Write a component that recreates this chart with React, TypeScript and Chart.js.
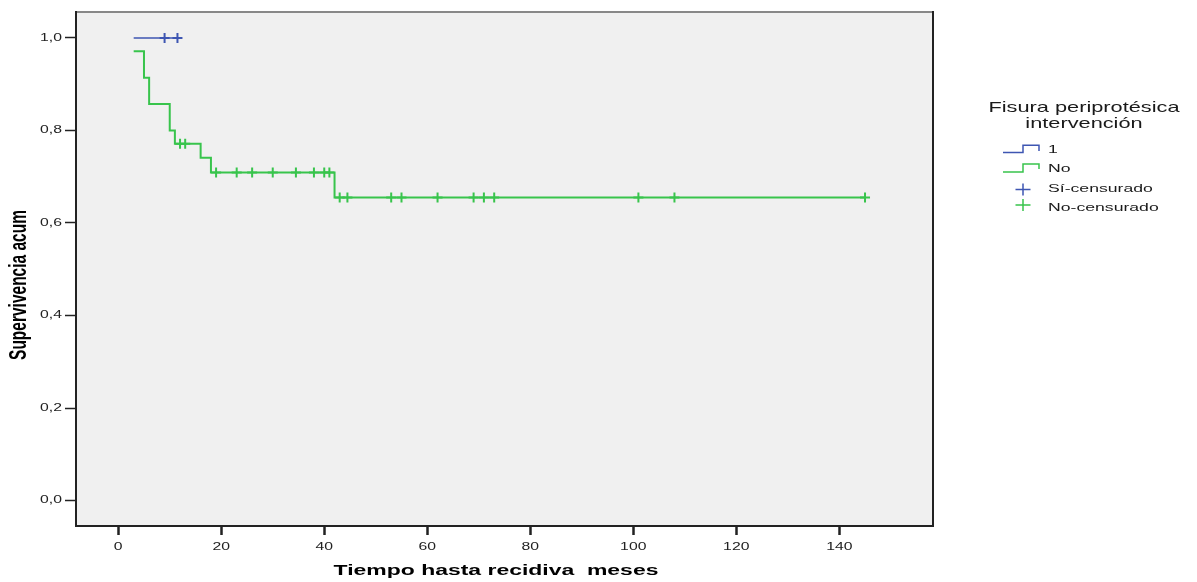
import React, { useEffect, useRef } from "react";
import { Chart, registerables } from "chart.js";

Chart.register(...registerables);

// ---- data ----
const xTickValues = [0, 20, 40, 60, 80, 100, 120, 140];
const yTickValues = [0, 0.2, 0.4, 0.6, 0.8, 1.0];

const blueEventTimes = [3];
const blueEventSurv = [1.0];
const blueCensorTimes = [9, 11.5];

const greenEventTimes = [3, 5, 6, 10, 11, 16, 18, 42];
const greenEventSurv = [0.971, 0.914, 0.857, 0.8, 0.771, 0.741, 0.709, 0.655];
const greenCensorTimes = [12, 13, 19, 23, 26, 30, 34.5, 38, 40, 41, 43, 44.5, 53, 55, 62, 69, 71, 73, 101, 108, 145];

const legendTitle = ["Fisura periprotésica", "intervención"];
const groupLabels = ["1", "No"];
const censorLabels = ["Sí-censurado", "No-censurado"];
const xTitle = "Tiempo hasta recidiva  meses";
const yTitle = "Supervivencia acum";

const BLUE = "rgb(62,86,178)";
const GREEN = "rgb(56,196,76)";
const FONT = "'Liberation Sans', Arial, sans-serif";
const SX = 1.5;

function survAt(times: number[], surv: number[], t: number) {
  let s = surv[0];
  for (let i = 0; i < times.length; i++) if (times[i] <= t) s = surv[i];
  return s;
}

function curve(times: number[], surv: number[], cens: number[]) {
  const all = Array.from(new Set([...times, ...cens])).sort((a, b) => a - b);
  return all.map((t) => ({ x: t, y: survAt(times, surv, t) }));
}

function marks(times: number[], surv: number[], cens: number[]) {
  return cens.map((t) => ({ x: t, y: survAt(times, surv, t) }));
}

function sText(
  ctx: CanvasRenderingContext2D,
  text: string,
  x: number,
  y: number,
  font: string,
  align: "left" | "center" | "right",
  color = "#1a1a1a",
  sx = SX
) {
  ctx.save();
  ctx.font = font;
  ctx.fillStyle = color;
  ctx.textBaseline = "middle";
  ctx.textAlign = "left";
  const w = ctx.measureText(text).width * sx;
  const left = align === "left" ? x : align === "center" ? x - w / 2 : x - w;
  ctx.translate(left, y);
  ctx.scale(sx, 1);
  ctx.fillText(text, 0, 0);
  ctx.restore();
}

const decorPlugin = {
  id: "decor",
  beforeDraw(chart: any) {
    const { ctx, chartArea: a } = chart;
    ctx.save();
    ctx.fillStyle = "#f0f0f0";
    ctx.fillRect(a.left, a.top, a.right - a.left, a.bottom - a.top);
    ctx.restore();
  },
  afterDraw(chart: any) {
    const { ctx, chartArea: a } = chart;
    // frame
    ctx.save();
    ctx.strokeStyle = "#888";
    ctx.lineWidth = 2;
    ctx.beginPath();
    ctx.moveTo(a.left, a.top);
    ctx.lineTo(a.right, a.top);
    ctx.stroke();
    ctx.strokeStyle = "#222";
    ctx.lineWidth = 2;
    ctx.beginPath();
    ctx.moveTo(a.left, a.top - 1);
    ctx.lineTo(a.left, a.bottom);
    ctx.lineTo(a.right, a.bottom);
    ctx.lineTo(a.right, a.top - 1);
    ctx.stroke();
    ctx.restore();

    // tick labels
    const xs = chart.scales.x;
    const ys = chart.scales.y;
    const tf = `10.5px ${FONT}`;
    ys.ticks.forEach((t: any) => {
      const py = ys.getPixelForValue(t.value);
      sText(ctx, t.value.toFixed(1).replace(".", ","), a.left - 14, py, tf, "right", "#222");
    });
    xs.ticks.forEach((t: any) => {
      const px = xs.getPixelForValue(t.value);
      sText(ctx, String(t.value), px, 547, tf, "center", "#222");
    });

    // axis titles
    sText(ctx, xTitle, 496, 571, `bold 15.3px ${FONT}`, "center", "#000");
    ctx.save();
    ctx.translate(20, 285);
    ctx.rotate(-Math.PI / 2);
    ctx.scale(1, SX);
    ctx.font = `bold 15.5px ${FONT}`;
    ctx.fillStyle = "#000";
    ctx.textAlign = "center";
    ctx.textBaseline = "middle";
    ctx.fillText(yTitle, 0, 0);
    ctx.restore();

    // legend
    const lf = `14.5px ${FONT}`;
    sText(ctx, legendTitle[0], 1084, 108, lf, "center");
    sText(ctx, legendTitle[1], 1084, 124, lf, "center");
    const itf = `11.75px ${FONT}`;
    const stepRows = [
      { c: BLUE, base: 152.5, top: 145.3, end: 151, ty: 150 },
      { c: GREEN, base: 172, top: 164, end: 169, ty: 169 },
    ];
    stepRows.forEach((r, i) => {
      ctx.save();
      ctx.strokeStyle = r.c;
      ctx.lineWidth = 1.5;
      ctx.beginPath();
      ctx.moveTo(1003, r.base);
      ctx.lineTo(1023, r.base);
      ctx.lineTo(1023, r.top);
      ctx.lineTo(1039, r.top);
      ctx.lineTo(1039, r.end);
      ctx.stroke();
      ctx.restore();
      sText(ctx, groupLabels[i], 1048, r.ty, itf, "left");
    });
    const crossRows = [
      { c: BLUE, cy: 189.5, ty: 189 },
      { c: GREEN, cy: 205, ty: 208 },
    ];
    crossRows.forEach((r, i) => {
      ctx.save();
      ctx.strokeStyle = r.c;
      ctx.lineWidth = 1.5;
      ctx.beginPath();
      ctx.moveTo(1015.5, r.cy);
      ctx.lineTo(1030.5, r.cy);
      ctx.moveTo(1023, r.cy - 6);
      ctx.lineTo(1023, r.cy + 6);
      ctx.stroke();
      ctx.restore();
      sText(ctx, censorLabels[i], 1048, r.ty, itf, "left");
    });
  },
};

export default function App() {
  const ref = useRef<HTMLCanvasElement | null>(null);
  useEffect(() => {
    if (!ref.current) return;
    const chart = new Chart(ref.current, {
      type: "line",
      data: {
        datasets: [
          {
            label: groupLabels[0],
            data: curve(blueEventTimes, blueEventSurv, blueCensorTimes),
            borderColor: BLUE,
            borderWidth: 1.5,
            stepped: true,
            pointRadius: 0,
            fill: false,
          },
          {
            label: groupLabels[1],
            data: curve(greenEventTimes, greenEventSurv, greenCensorTimes),
            borderColor: GREEN,
            borderWidth: 2,
            stepped: true,
            pointRadius: 0,
            fill: false,
          },
          {
            label: censorLabels[0],
            data: marks(blueEventTimes, blueEventSurv, blueCensorTimes),
            showLine: false,
            pointStyle: "cross",
            pointRadius: 5,
            pointBorderWidth: 2,
            pointBorderColor: BLUE,
            borderColor: BLUE,
          },
          {
            label: censorLabels[1],
            data: marks(greenEventTimes, greenEventSurv, greenCensorTimes),
            showLine: false,
            pointStyle: "cross",
            pointRadius: 5,
            pointBorderWidth: 2,
            pointBorderColor: GREEN,
            borderColor: GREEN,
          },
        ],
      },
      options: {
        animation: false,
        responsive: false,
        devicePixelRatio: 1,
        layout: { padding: { top: 12, right: 264, left: 0, bottom: 0 } },
        plugins: { legend: { display: false }, tooltip: { enabled: false } },
        scales: {
          x: {
            type: "linear",
            min: -8.2,
            max: 158.2,
            afterBuildTicks: (s: any) => {
              s.ticks = xTickValues.map((v) => ({ value: v }));
            },
            afterFit: (s: any) => {
              s.height = 56;
            },
            ticks: { display: false },
            border: { display: false },
            grid: {
              drawOnChartArea: false,
              drawTicks: true,
              tickLength: 9,
              tickWidth: 2.5,
              tickColor: "#222",
            },
          },
          y: {
            type: "linear",
            min: -0.055,
            max: 1.056,
            afterBuildTicks: (s: any) => {
              s.ticks = yTickValues.map((v) => ({ value: v }));
            },
            afterFit: (s: any) => {
              s.width = 76;
            },
            ticks: { display: false },
            border: { display: false },
            grid: {
              drawOnChartArea: false,
              drawTicks: true,
              tickLength: 11,
              tickWidth: 1.5,
              tickColor: "#222",
            },
          },
        },
      },
      plugins: [decorPlugin],
    } as any);
    return () => chart.destroy();
  }, []);
  return (
    <div style={{ position: "absolute", left: 0, top: 0, width: 1197, height: 582, background: "#fff" }}>
      <canvas ref={ref} width={1197} height={582} style={{ display: "block" }} />
    </div>
  );
}
